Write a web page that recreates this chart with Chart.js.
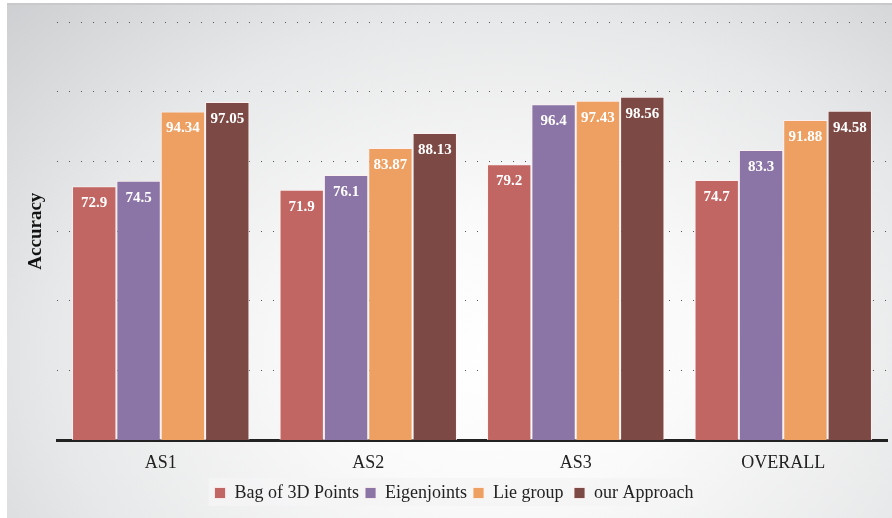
<!DOCTYPE html>
<html>
<head>
<meta charset="utf-8">
<script src="https://cdn.jsdelivr.net/npm/chart.js@4"></script>
<style>
  html, body { margin: 0; padding: 0; background: #fff; }
  #wrap {
    position: relative; width: 892px; height: 518px; overflow: hidden;
  }
  #frame {
    position: absolute; left: 7px; top: 3px; width: 885px; height: 515px;
    border-top: 2px solid #c9c9cb;
    box-sizing: border-box;
    background: radial-gradient(ellipse 85% 110% at 56% 68%, #ffffff 0%, #fafafa 25%, #e7e8e9 60%, #c6c7ca 100%);
  }
  canvas { position: absolute; left: 0; top: 0; }
</style>
</head>
<body>
<div id="wrap">
  <div id="frame"></div>
  <canvas id="chart" width="892" height="518"></canvas>
</div>
<script>
const categories = ['AS1', 'AS2', 'AS3', 'OVERALL'];
const seriesNames = ['Bag of 3D Points', 'Eigenjoints', 'Lie group ', 'our Approach'];
const bag3d      = [72.9, 71.9, 79.2, 74.7];
const eigenjoint = [74.5, 76.1, 96.4, 83.3];
const lieGroup   = [94.34, 83.87, 97.43, 91.88];
const ourApproach = [97.05, 88.13, 98.56, 94.58];
const colors = ['#c26663', '#8b74a6', '#eea062', '#7c4945'];

const serif = 'Liberation Serif';
Chart.defaults.font.family = serif;

// value labels inside the top of each bar
const barLabels = {
  id: 'barLabels',
  afterDatasetsDraw(chart) {
    const ctx = chart.ctx;
    ctx.save();
    ctx.font = 'bold 15px "Liberation Serif"';
    ctx.fillStyle = '#ffffff';
    ctx.textAlign = 'center';
    ctx.textBaseline = 'middle';
    chart.data.datasets.forEach((ds, i) => {
      chart.getDatasetMeta(i).data.forEach((bar, j) => {
        ctx.fillText(String(ds.data[j]), bar.x, bar.y + 17);
      });
    });
    ctx.restore();
  }
};

// pale panel behind the legend items
const legendPanel = {
  id: 'legendPanel',
  beforeDraw(chart) {
    const boxes = chart.legend && chart.legend.legendHitBoxes;
    if (!boxes || !boxes.length) return;
    let l = Infinity, r = -Infinity, t = Infinity, b = -Infinity;
    boxes.forEach(h => {
      l = Math.min(l, h.left); r = Math.max(r, h.left + h.width);
      t = Math.min(t, h.top); b = Math.max(b, h.top + h.height);
    });
    const ctx = chart.ctx;
    ctx.save();
    ctx.fillStyle = 'rgba(245,245,246,0.85)';
    ctx.fillRect(l - 6, t - 6, r - l + 10, b - t + 10);
    ctx.restore();
  }
};

const series = [bag3d, eigenjoint, lieGroup, ourApproach];

new Chart(document.getElementById('chart'), {
  type: 'bar',
  data: {
    labels: categories,
    datasets: series.map((d, i) => ({
      label: seriesNames[i],
      data: d,
      backgroundColor: colors[i],
      borderColor: 'rgba(255,240,240,0.85)',
      borderWidth: 1,
      categoryPercentage: 0.855,
      barPercentage: 1.0
    }))
  },
  options: {
    responsive: false,
    animation: false,
    layout: { padding: { left: 21, right: 5, top: 22, bottom: 6 } },
    plugins: {
      tooltip: { enabled: false },
      legend: {
        position: 'bottom',
        labels: {
          font: { family: serif, size: 18 },
          color: '#222',
          boxWidth: 11,
          boxHeight: 11,
          padding: 6
        }
      }
    },
    scales: {
      x: {
        grid: { display: false },
        border: { color: '#222', width: 3 },
        ticks: { font: { family: serif, size: 18 }, color: '#222', padding: 4 }
      },
      y: {
        min: 0,
        max: 120,
        ticks: { display: false, stepSize: 20 },
        border: { display: false, dash: [1, 11] },
        grid: { color: '#555', lineWidth: 1, drawTicks: false },
        title: {
          display: true,
          text: 'Accuracy',
          font: { family: serif, size: 19, weight: 'bold' },
          color: '#111',
          padding: { top: 4, bottom: 0 }
        },
        afterFit(scale) { scale.width = 36; }
      }
    }
  },
  plugins: [legendPanel, barLabels]
});
</script>
</body>
</html>
